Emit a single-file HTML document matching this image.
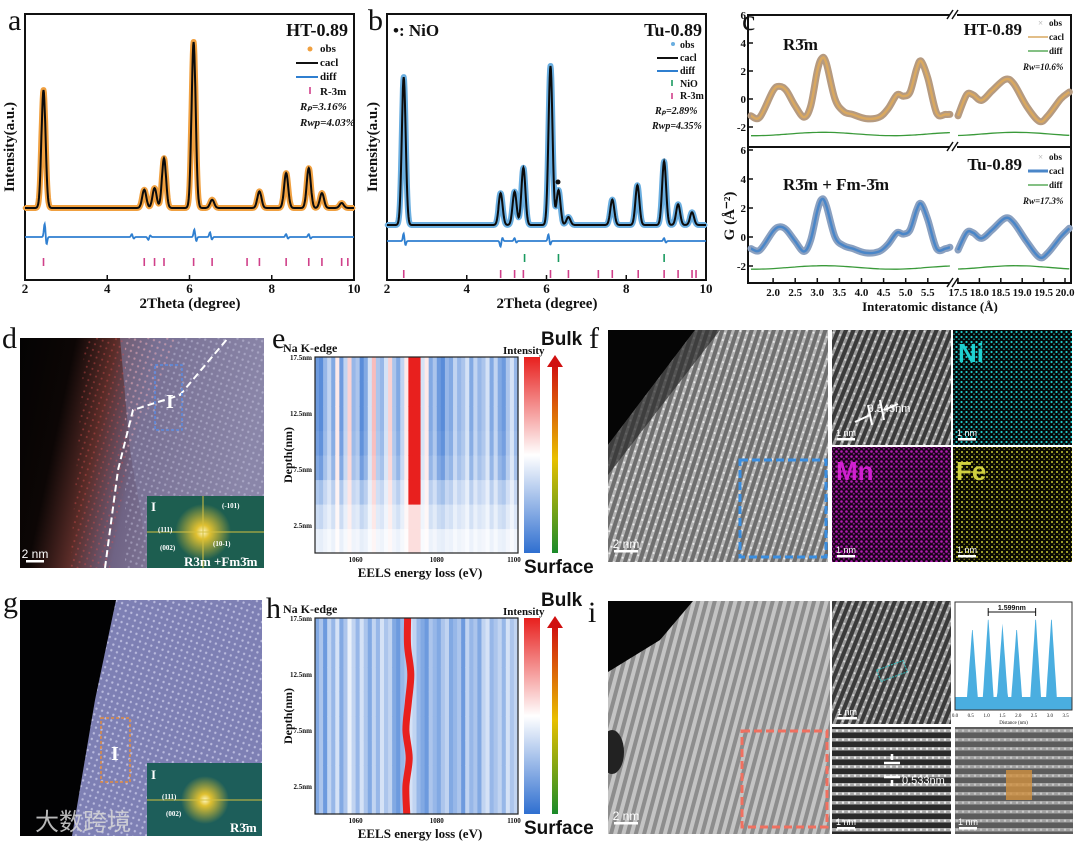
<!DOCTYPE html>
<html><head><meta charset="utf-8"><style>
html,body{margin:0;padding:0;background:#fff;}
svg{display:block;}
</style></head><body>
<svg id="fig" width="1080" height="841" viewBox="0 0 1080 841" xmlns="http://www.w3.org/2000/svg">
<defs>
  <pattern id="dotsW" width="6" height="6" patternUnits="userSpaceOnUse" patternTransform="rotate(20)"><circle cx="3" cy="3" r="1.2" fill="#e8e8ff" opacity="0.55"/></pattern>
  <pattern id="dotsR" width="6" height="6" patternUnits="userSpaceOnUse" patternTransform="rotate(20)"><circle cx="3" cy="3" r="1" fill="#e05050" opacity="0.6"/></pattern>
  <pattern id="stripesG" width="7" height="7" patternUnits="userSpaceOnUse" patternTransform="rotate(18)"><rect width="7" height="7" fill="#6f6f6f"/><rect x="0" width="3" height="7" fill="#b5b5b5"/><circle cx="1.5" cy="2" r="1" fill="#eee"/></pattern>
  <pattern id="stripesD" width="7" height="7" patternUnits="userSpaceOnUse" patternTransform="rotate(22)"><rect width="7" height="7" fill="#3a3a3a"/><rect x="0" width="3" height="7" fill="#9a9a9a"/><circle cx="1.5" cy="3" r="1" fill="#ddd"/></pattern>
  <pattern id="stripesH" width="6" height="9" patternUnits="userSpaceOnUse"><rect width="6" height="9" fill="#2a2a2a"/><rect y="0" width="6" height="3.5" fill="#a8a8a8"/><circle cx="3" cy="1.7" r="1.2" fill="#eee"/></pattern>
  <pattern id="stripesL" width="8" height="8" patternUnits="userSpaceOnUse" patternTransform="rotate(15)"><rect width="8" height="8" fill="#8d8d8d"/><rect width="4" height="8" fill="#c4c4c4"/></pattern>
  <pattern id="dotC" width="5" height="5" patternUnits="userSpaceOnUse"><rect width="5" height="5" fill="#050808"/><circle cx="1.5" cy="2" r="1.1" fill="#1fc9c9"/><circle cx="4" cy="4.2" r="0.8" fill="#1aa6a6"/></pattern>
  <pattern id="dotM" width="5" height="5" patternUnits="userSpaceOnUse"><rect width="5" height="5" fill="#1a031a"/><circle cx="1.5" cy="1.5" r="1.3" fill="#b21cb2"/><circle cx="3.8" cy="3.7" r="1" fill="#8a168a"/></pattern>
  <pattern id="dotY" width="5" height="5" patternUnits="userSpaceOnUse"><rect width="5" height="5" fill="#0a0a02"/><circle cx="2" cy="2" r="1" fill="#c8c832"/><circle cx="4.2" cy="4.3" r="0.7" fill="#8f8f22"/></pattern>
  <radialGradient id="glow"><stop offset="0" stop-color="#fff8c0"/><stop offset="0.25" stop-color="#e0c030"/><stop offset="1" stop-color="#e0c030" stop-opacity="0"/></radialGradient>
  <linearGradient id="dGrad" x1="0" y1="0" x2="1" y2="0.2"><stop offset="0" stop-color="#040303"/><stop offset="0.22" stop-color="#0c0605"/><stop offset="0.38" stop-color="#5a2c28"/><stop offset="0.55" stop-color="#6f6384"/><stop offset="1" stop-color="#9c99b8"/></linearGradient>
  <linearGradient id="cbar" x1="0" y1="1" x2="0" y2="0"><stop offset="0" stop-color="#2f6fd0"/><stop offset="0.5" stop-color="#ffffff"/><stop offset="1" stop-color="#e8201e"/></linearGradient>
  <linearGradient id="arrowG" x1="0" y1="1" x2="0" y2="0"><stop offset="0" stop-color="#1a8a2a"/><stop offset="0.5" stop-color="#e8c000"/><stop offset="1" stop-color="#d01010"/></linearGradient>
</defs>
<g id="root"></g>
</svg>
<script>
const NS="http://www.w3.org/2000/svg";
const root=document.getElementById('root');
function mk(tag,attrs,parent,text){const e=document.createElementNS(NS,tag);for(const k in attrs)e.setAttribute(k,attrs[k]);if(text!==undefined)e.textContent=text;(parent||root).appendChild(e);return e;}
function txt(x,y,s,size,opts,parent){opts=opts||{};const t=mk('text',Object.assign({x:x,y:y,'font-size':size,'font-family':opts.sans?'"Liberation Sans",sans-serif':'"Liberation Serif",serif','font-weight':opts.w||'bold',fill:opts.fill||'#111','text-anchor':opts.anchor||'start'},opts.extra||{}),parent,s);return t;}

/* ===== XRD data ===== */
const aPeakPos=[2.45,4.9,5.15,5.38,6.1,6.55,7.7,8.35,8.9,9.22,9.7];
const aPeakHeight=[71,11,12,30,100,5,10,21,24,9,3];
const aTickPos=[2.45,4.9,5.15,5.38,6.1,6.55,7.4,7.7,8.35,8.9,9.22,9.7,9.85];
const aDiffPos=[2.48,4.6,5.0,6.12,6.5,8.35,8.9];
const aDiffVal=[14,3,-3,8,5,3,3];
const bPeakPos=[2.42,4.85,5.2,5.42,6.1,6.3,6.55,7.65,8.28,8.95,9.3,9.65];
const bPeakHeight=[93,20,21,36,100,22,5,16,25,40,13,8];
const bTickR=[2.42,4.85,5.2,5.42,6.1,6.55,7.3,7.65,8.3,8.95,9.3,9.65,9.75];
const bTickNiO=[5.45,6.3,8.95];
const bDiffPos=[2.42,4.85,6.05,5.2,8.95];
const bDiffVal=[8,-6,7,3,3];
const xrdTicks=[2,4,6,8,10];

function gauss(x,c,s){return Math.exp(-0.5*((x-c)/s)**2);}
function xrdPanel(cfg){
  const g=mk('g',{});
  
  
  const X=v=>cfg.x0+(v-2)/8*(cfg.x1-cfg.x0);
  const Y=v=>cfg.base-v*cfg.k;
  const fr=mk('rect',{x:cfg.x0,y:cfg.top,width:cfg.x1-cfg.x0,height:cfg.bot-cfg.top,fill:'none',stroke:'#111','stroke-width':2},g);
  
  xrdTicks.forEach(t=>{
    mk('line',{x1:X(t),x2:X(t),y1:cfg.bot,y2:cfg.bot-5,stroke:'#111','stroke-width':1.5},g);
    const l=txt(X(t),cfg.bot+13,String(t),13,{anchor:'middle'},g);
    
  });
  const prof=v=>{let s=0;cfg.pos.forEach((p,i)=>{s+=cfg.h[i]*gauss(v,p,0.05);});return s;};
  let d='';
  for(let v=2;v<=10.0001;v+=0.01){d+=(d?'L':'M')+X(v).toFixed(1)+','+Y(prof(v)).toFixed(1);}
  const under=mk('path',{d:d,fill:'none',stroke:cfg.obsColor,'stroke-width':6,'stroke-linejoin':'round'},g);
  
  for(let v=2;v<=10.0001;v+=0.035){mk('circle',{cx:X(v),cy:Y(prof(v)),r:2.3,fill:cfg.obsColor},g);}
  const calc=mk('path',{d:d,fill:'none',stroke:'#0b0b0b','stroke-width':2},g);
  
  let dd='';
  for(let v=2;v<=10.0001;v+=0.01){let s=0;cfg.dpos.forEach((p,i)=>{s+=cfg.dval[i]*(gauss(v,p,0.02)-0.6*gauss(v,p+0.04,0.02));});dd+=(dd?'L':'M')+X(v).toFixed(1)+','+(cfg.diffY-s).toFixed(1);}
  const diff=mk('path',{d:dd,fill:'none',stroke:'#2f7fd0','stroke-width':1.8},g);
  
  cfg.ticks.forEach(tk=>tk.pos.forEach(p=>{mk('line',{x1:X(p),x2:X(p),y1:tk.y-4,y2:tk.y+4,stroke:tk.color,'stroke-width':1.6},g);}));
  return g;
}
xrdPanel({name:'xrd-panel-a',x0:25,x1:354,top:14,bot:280,base:208,k:1.66,pos:aPeakPos,h:aPeakHeight,obsColor:'#f0a040',dpos:aDiffPos,dval:aDiffVal,diffY:237,ticks:[{pos:aTickPos,y:262,color:'#d0408a'}]});
xrdPanel({name:'xrd-panel-b',x0:387,x1:706,top:14,bot:280,base:225,k:1.59,pos:bPeakPos,h:bPeakHeight,obsColor:'#6aaee0',dpos:bDiffPos,dval:bDiffVal,diffY:241,ticks:[{pos:bTickNiO,y:258,color:'#1a9a60'},{pos:bTickR,y:274,color:'#d0408a'}]});

[['a',8,30],['b',368,30],['c',742,30],['d',2,348],['e',272,348],['f',589,348],['g',3,612],['h',266,618],['i',588,622]].forEach(p=>{const t=txt(p[1],p[2],p[0],30,{w:'normal'});});
function yt(x,y,s,name){const t=txt(x,y,s,15,{anchor:'middle',extra:{transform:'rotate(-90 '+x+' '+y+')'}});}
yt(14,147,'Intensity(a.u.)','y-axis-title-a');yt(377,147,'Intensity(a.u.)','y-axis-title-b');
let t;
t=txt(190,308,'2Theta (degree)',15,{anchor:'middle'});
t=txt(547,308,'2Theta (degree)',15,{anchor:'middle'});
t=txt(348,36,'HT-0.89',18,{anchor:'end'});
mk('circle',{cx:310,cy:49,r:2.5,fill:'#f0a040'});
[['obs',52],['cacl',66],['diff',80],['R-3m',95]].forEach(r=>{const l=txt(320,r[1],r[0],11);});
mk('line',{x1:296,x2:318,y1:63,y2:63,stroke:'#111','stroke-width':2});
mk('line',{x1:296,x2:318,y1:77,y2:77,stroke:'#2f7fd0','stroke-width':2});
mk('line',{x1:310,x2:310,y1:87,y2:94,stroke:'#d0408a','stroke-width':1.6});
txt(300,110,'Rₚ=3.16%',11,{extra:{'font-style':'italic'}});
txt(300,126,'Rwp=4.03%',11,{extra:{'font-style':'italic'}});
t=txt(702,36,'Tu-0.89',18,{anchor:'end'});
t=txt(393,36,'•:  NiO',17);
mk('circle',{cx:558,cy:182,r:2.5,fill:'#111'});
mk('circle',{cx:673,cy:44,r:2,fill:'#6aaee0'});
[['obs',48],['cacl',61],['diff',74],['NiO',87],['R-3m',99]].forEach(r=>{const l=txt(680,r[1],r[0],10);});
mk('line',{x1:657,x2:678,y1:58,y2:58,stroke:'#111','stroke-width':2});
mk('line',{x1:657,x2:678,y1:71,y2:71,stroke:'#2f7fd0','stroke-width':2});
mk('line',{x1:672,x2:672,y1:80,y2:86,stroke:'#1a9a60','stroke-width':1.6});
mk('line',{x1:672,x2:672,y1:93,y2:99,stroke:'#d0408a','stroke-width':1.6});
txt(655,114,'Rₚ=2.89%',10,{extra:{'font-style':'italic'}});
txt(652,129,'Rwp=4.35%',10,{extra:{'font-style':'italic'}});

/* ===== PDF panel c ===== */
const cLeftR=[1.5,1.7,2.0,2.15,2.3,2.5,2.7,2.85,3.0,3.1,3.2,3.4,3.6,3.8,4.1,4.4,4.6,4.8,4.95,5.1,5.25,5.35,5.5,5.7,5.9,6.0];
const cTopLeftG=[-1.2,-1.3,0.6,0.9,0.6,-0.5,-1.3,-0.5,2.0,2.9,2.6,0,-0.9,-1.1,-1.4,-1.3,-0.7,0.3,0.2,0.5,2.2,2.7,1.5,-1.0,-1.1,-1.1];
const cBotLeftG=[-0.8,-0.9,0.4,0.7,0.5,-0.3,-1.0,-0.2,1.8,2.6,2.2,0,-0.6,-0.8,-1.1,-1.0,-0.5,0.3,0.2,0.5,1.9,2.3,1.2,-0.8,-0.8,-0.7];
const cRightR=[17.5,17.7,17.85,18.05,18.3,18.6,18.8,19.1,19.4,19.6,19.9,20.1];
const cTopRightG=[-1.2,0.3,0.3,-0.1,0.6,1.4,1.1,-0.5,-1.6,-1.2,0,0.5];
const cBotRightG=[-0.9,0.3,0.3,-0.1,0.5,1.3,1.0,-0.3,-1.4,-1.1,0,0.6];
const cTopDiff=-2.5, cBotDiff=-2.1;
const cLeftTicks=[2.0,2.5,3.0,3.5,4.0,4.5,5.0,5.5];
const cRightTicks=[17.5,18.0,18.5,19.0,19.5,20.0];
const cYTicks=[6,4,2,0,-2];
const XL=r=>751+(r-1.5)*44.2, XR=r=>958+(r-17.5)*42.8;
function smoothPath(xs,ys){let d='M'+xs[0]+','+ys[0];for(let i=1;i<xs.length;i++){const x0=xs[i-1],y0=ys[i-1],x1=xs[i],y1=ys[i];const px=i>1?xs[i-2]:x0,py=i>1?ys[i-2]:y0;const nx=i<xs.length-1?xs[i+1]:x1,ny=i<xs.length-1?ys[i+1]:y1;d+='C'+(x0+(x1-px)/6).toFixed(1)+','+(y0+(y1-py)/6).toFixed(1)+' '+(x1-(nx-x0)/6).toFixed(1)+','+(y1-(ny-y0)/6).toFixed(1)+' '+x1.toFixed(1)+','+y1.toFixed(1);}return d;}
function pdfSub(cfg){
  const g=mk('g',{});
  const Y=v=>cfg.zero-v*cfg.k;
  mk('rect',{x:748,y:cfg.top,width:323,height:cfg.bot-cfg.top,fill:'none',stroke:'#111','stroke-width':2},g);
  cYTicks.forEach(v=>{const yy=Y(v);if(yy<cfg.top-1||yy>cfg.bot)return;mk('line',{x1:748,x2:753,y1:yy,y2:yy,stroke:'#111','stroke-width':1.5},g);const l=txt(746,yy+4,String(v),11,{anchor:'end'},g);});
  [[cLeftR,cfg.gl,XL],[cRightR,cfg.gr,XR]].forEach(seg=>{
    const xs=seg[0].map(seg[2]),ys=seg[1].map(Y);const d=smoothPath(xs,ys);
    const o=mk('path',{d:d,fill:'none',stroke:cfg.obs,'stroke-width':7,'stroke-linecap':'round'},g);
    const c=mk('path',{d:d,fill:'none',stroke:cfg.calc,'stroke-width':2.5},g);
    const dl=mk('path',{d:smoothPath(xs,seg[0].map((r,i)=>Y(cfg.diff+0.12*Math.cos(r*2)))),fill:'none',stroke:'#3a9a3a','stroke-width':1.3},g);
  });
  mk('rect',{x:950,y:cfg.top-4,width:7,height:8,fill:'#fff'},g);
  mk('path',{d:`M947,${cfg.top+4} L953,${cfg.top-5} M952,${cfg.top+4} L958,${cfg.top-5}`,stroke:'#111','stroke-width':1.5},g);
  return g;
}
pdfSub({name:'pdf-panel-ht',top:15,bot:147,zero:99,k:14,gl:cTopLeftG,gr:cTopRightG,diff:cTopDiff,obs:'#b59a80',calc:'#d9a860'});
pdfSub({name:'pdf-panel-tu',top:147,bot:283,zero:237,k:14.5,gl:cBotLeftG,gr:cBotRightG,diff:cBotDiff,obs:'#8aa0c0',calc:'#4a86c8'});
mk('rect',{x:950,y:279,width:7,height:8,fill:'#fff'});
mk('path',{d:'M947,287 L953,278 M952,287 L958,278',stroke:'#111','stroke-width':1.5});
cLeftTicks.forEach(r=>{mk('line',{x1:XL(r),x2:XL(r),y1:283,y2:278,stroke:'#111','stroke-width':1.5});const l=txt(XL(r),296,r.toFixed(1),11,{anchor:'middle'});});
cRightTicks.forEach(r=>{mk('line',{x1:XR(r),x2:XR(r),y1:283,y2:278,stroke:'#111','stroke-width':1.5});const l=txt(XR(r),296,r.toFixed(1),10,{anchor:'middle',extra:{textLength:19,lengthAdjust:'spacingAndGlyphs'}});});
t=txt(930,311,'Interatomic distance (Å)',13,{anchor:'middle'});
yt(734,216,'G (Å⁻²)','y-axis-title-c');
t=txt(783,50,'R3̄m',17);
t=txt(783,190,'R3̄m + Fm-3̄m',17);
t=txt(1022,35,'HT-0.89',17,{anchor:'end'});
t=txt(1022,170,'Tu-0.89',17,{anchor:'end'});
[[26,'#aaa','#d9a860',0],[160,'#aaa','#4a86c8',3]].forEach(L=>{const y=L[0];
  txt(1038,y,'×',9,{fill:L[1],w:'normal'});txt(1049,y,'obs',9);
  mk('line',{x1:1028,x2:1048,y1:y+11,y2:y+11,stroke:L[2],'stroke-width':L[3]?3:1.5});txt(1049,y+14,'cacl',9);
  mk('line',{x1:1028,x2:1048,y1:y+25,y2:y+25,stroke:'#3a9a3a','stroke-width':1.3});txt(1049,y+28,'diff',9);
});
txt(1023,70,'Rw=10.6%',9,{extra:{'font-style':'italic'}});
txt(1023,204,'Rw=17.3%',9,{extra:{'font-style':'italic'}});

/* ===== EELS heatmaps ===== */
const eCols=[-0.7,-0.8,-0.5,-0.3,-0.6,0.1,-0.7,-0.3,0.2,-0.5,-0.4,-0.8,-0.6,-0.2,0.3,-0.4,-0.5,-0.2,0.2,-0.4,-0.6,-0.3,0.1,1,1,0.9,-0.2,0.1,-0.6,-0.4,-0.7,-0.8,-0.5,-0.6,-0.3,-0.5,-0.4,-0.2,-0.6,-0.3,-0.5,-0.4,-0.2,-0.6,-0.3,-0.6,-0.7,-0.4,-0.2,-0.5];
const eDepthFactor=[0.15,0.35,0.55,0.85,0.95,1,1,1];
const ePeakDepthMin=5;
const hCols=[-0.6,-0.4,-0.7,-0.3,-0.5,-0.2,-0.6,-0.4,-0.1,-0.3,-0.5,-0.2,-0.4,-0.6,-0.3,-0.5,-0.2,-0.4,-0.3,-0.6,-0.7,-0.5,-0.4,-0.2,-0.3,-0.5,-0.6,-0.7,-0.4,-0.5,-0.6,-0.4,-0.3,-0.6,-0.5,-0.4,-0.7,-0.3,-0.5,-0.4,-0.6,-0.3,-0.2,-0.5,-0.4,-0.3,-0.5,-0.2,-0.4,-0.3];
const hPeakDepth=[0,2.5,5,7.5,10,12.5,15,17.5];
const hPeakCenter=[1072.6,1072.4,1073.2,1072.4,1073.0,1073.6,1072.8,1072.8];
const eelsXTicks=[1060,1080,1100];
const eelsYTicks=[2.5,7.5,12.5,17.5];
function col(v){v=Math.max(-1,Math.min(1,v));if(v<0){const a=-v;return `rgb(${Math.round(255-a*208)},${Math.round(255-a*144)},${Math.round(255-a*47)})`;}return `rgb(${Math.round(255-v*23)},${Math.round(255-v*223)},${Math.round(255-v*225)})`;}
function eels(cfg){
  const g=mk('g',{});
  const x0=315,x1=518,y0=cfg.top,y1=cfg.top+196;
  const X=e=>x0+(e-1050)/50*(x1-x0), Y=d=>y1-d/17.5*(y1-y0);
  const nb=8,bh=17.5/nb;
  for(let j=0;j<cfg.cols.length;j++){for(let i=0;i<nb;i++){
    let v=cfg.cols[j];
    if(cfg.type==='e'){ if(v>0.8){v=(i*bh>=ePeakDepthMin-1)?1:0.15;} else v=v*eDepthFactor[i]; }
    mk('rect',{x:X(1050+j).toFixed(2),y:Y((i+1)*bh).toFixed(2),width:((x1-x0)/50+0.6).toFixed(2),height:((y1-y0)/nb+0.6).toFixed(2),fill:col(v)},g);
  }}
  if(cfg.type==='h'){
    const xs=hPeakCenter.map(X),ys=hPeakDepth.map(Y);
    const p=mk('path',{d:smoothPath(xs,ys),fill:'none',stroke:'#e8201e','stroke-width':7},g);
    
  }
  mk('rect',{x:x0,y:y0,width:x1-x0,height:y1-y0,fill:'none',stroke:'#222','stroke-width':1.2},g);
  eelsXTicks.forEach(e=>{const l=txt(X(e)-(e===1100?4:0),y1+9,String(e),7,{anchor:'middle'},g);});
  eelsYTicks.forEach(d=>{const l=txt(x0-3,Y(d)+3,d+'nm',7,{anchor:'end'},g);});
  const xl=txt(420,y1+24,'EELS energy loss (eV)',13,{anchor:'middle'},g);
  const yl=txt(292,(y0+y1)/2,'Depth(nm)',12,{anchor:'middle',extra:{transform:`rotate(-90 292 ${(y0+y1)/2})`}},g);
  txt(283,y0-5,'Na K-edge',12,{},g);
  txt(503,y0-3,'Intensity',11,{},g);
  const cb=mk('rect',{x:524,y:y0,width:16,height:196,fill:'url(#cbar)'},g);
  mk('rect',{x:552,y:y0+8,width:6,height:188,fill:'url(#arrowG)'},g);
  mk('path',{d:`M547,${y0+10} L555,${y0-2} L563,${y0+10}Z`,fill:'#d01010'},g);
  const bk=txt(541,y0-12,'Bulk',19,{sans:true},g);
  const sf=txt(524,y1+20,'Surface',19,{sans:true},g);
}
eels({name:'eels-heatmap-e',top:357,cols:eCols,type:'e'});
eels({name:'eels-heatmap-h',top:618,cols:hCols,type:'h'});

/* ===== Microscopy images ===== */
function img(name,x,y,w,h){const g=mk('g',{});const cp=mk('clipPath',{id:'cp'+name},g);mk('rect',{x:x,y:y,width:w,height:h},cp);const inner=mk('g',{'clip-path':`url(#cp${name})`},g);return inner;}
function scale(g,x,y,label,w){mk('rect',{x:x,y:y,width:w||20,height:2.5,fill:'#fff'},g);txt(x+(w||20)/2,y-2,label,label==='2 nm'?12:9,{sans:true,fill:'#fff',anchor:'middle',w:'normal'},g);}
let G=img('stem-image-d',20,338,244,230);
mk('rect',{x:20,y:338,width:244,height:230,fill:'url(#dGrad)'},G);
mk('polygon',{points:'120,338 264,338 264,568 150,568 130,450',fill:'#7f7a9e',opacity:0.6},G);
mk('polygon',{points:'85,338 180,338 130,450 110,568 70,568',fill:'url(#dotsR)',opacity:0.7},G);
mk('rect',{x:125,y:338,width:139,height:230,fill:'url(#dotsW)',opacity:0.6},G);
mk('path',{d:'M105,568 L118,470 L133,410 L180,395 L228,338',fill:'none',stroke:'#fff','stroke-width':2,'stroke-dasharray':'7,4'},G);
mk('rect',{x:155,y:365,width:27,height:65,fill:'none',stroke:'#5a8ae0','stroke-width':1.5,'stroke-dasharray':'3,2'},G);
txt(166,408,'I',20,{fill:'#fff'},G);
scale(G,26,560,'2 nm',18);
mk('rect',{x:147,y:496,width:117,height:72,fill:'#1d5e50'},G);
mk('circle',{cx:203,cy:532,r:28,fill:'url(#glow)'},G);
mk('line',{x1:147,x2:264,y1:532,y2:532,stroke:'#d4c040','stroke-width':1},G);
mk('line',{x1:203,x2:203,y1:496,y2:568,stroke:'#d4c040','stroke-width':1},G);
txt(151,511,'I',13,{fill:'#fff'},G);txt(222,508,'(-101)',7,{fill:'#fff'},G);txt(158,532,'(111)',7,{fill:'#fff'},G);txt(160,550,'(002)',7,{fill:'#fff'},G);txt(213,546,'(10-1)',7,{fill:'#fff'},G);
txt(184,566,'R3m +Fm3̄m',13,{fill:'#fff'},G);
G=img('stem-image-f',608,330,220,232);
mk('rect',{x:608,y:330,width:220,height:232,fill:'url(#stripesG)'},G);
mk('polygon',{points:'608,330 695,330 608,445',fill:'#050505'},G);
mk('polygon',{points:'695,330 720,330 608,475 608,445',fill:'#2a2a2a',opacity:0.7},G);
mk('rect',{x:740,y:460,width:86,height:97,fill:'none',stroke:'#3a8ee0','stroke-width':3,'stroke-dasharray':'8,4'},G);
scale(G,614,550,'2 nm',24);
G=img('hrtem-f-zoom',832,330,119,115);mk('rect',{x:832,y:330,width:119,height:115,fill:'url(#stripesD)'},G);
mk('path',{d:'M855,422 L870,415 M884,410 L898,404 M868,405 L872,425 M880,400 L884,420',stroke:'#fff','stroke-width':2},G);
txt(889,412,'0.543nm',11,{sans:true,fill:'#fff',anchor:'middle',w:'normal'},G);scale(G,837,438,'1 nm',18);
G=img('eds-ni-map',953,330,119,115);mk('rect',{x:953,y:330,width:119,height:115,fill:'url(#dotC)'},G);txt(958,362,'Ni',26,{sans:true,fill:'#1fd0d0'},G);scale(G,958,438,'1 nm',18);
G=img('eds-mn-map',832,447,119,115);mk('rect',{x:832,y:447,width:119,height:115,fill:'url(#dotM)'},G);txt(836,480,'Mn',26,{sans:true,fill:'#d020d0'},G);scale(G,837,555,'1 nm',18);
G=img('eds-fe-map',953,447,119,115);mk('rect',{x:953,y:447,width:119,height:115,fill:'url(#dotY)'},G);txt(956,480,'Fe',26,{sans:true,fill:'#d0d040'},G);scale(G,958,555,'1 nm',18);
G=img('stem-image-g',20,600,242,236);
mk('rect',{x:20,y:600,width:242,height:236,fill:'#7e80b4'},G);
mk('rect',{x:20,y:600,width:242,height:236,fill:'url(#dotsW)'},G);
mk('polygon',{points:'20,600 116,600 95,700 72,836 20,836',fill:'#020203'},G);
mk('rect',{x:101,y:718,width:29,height:64,fill:'none',stroke:'#e08a40','stroke-width':1.5,'stroke-dasharray':'3,2'},G);
txt(111,760,'I',20,{fill:'#fff'},G);
mk('rect',{x:147,y:763,width:115,height:73,fill:'#1d5e5a'},G);
mk('circle',{cx:205,cy:800,r:24,fill:'url(#glow)'},G);
mk('line',{x1:147,x2:262,y1:800,y2:800,stroke:'#d4c040','stroke-width':1},G);
txt(151,779,'I',13,{fill:'#fff'},G);txt(162,799,'(111)',7,{fill:'#fff'},G);txt(166,816,'(002)',7,{fill:'#fff'},G);txt(230,832,'R3̄m',13,{fill:'#fff'},G);
t=txt(35,830,'大数跨境',24,{fill:'#d8d8d8',w:'normal',extra:{'font-family':'"Noto Sans CJK SC",sans-serif',opacity:0.85}});
G=img('stem-image-i',608,601,222,233);
mk('rect',{x:608,y:601,width:222,height:233,fill:'url(#stripesL)'},G);
mk('polygon',{points:'608,601 693,601 660,640 608,672',fill:'#050505'},G);
mk('ellipse',{cx:612,cy:752,rx:12,ry:22,fill:'#222'},G);
mk('rect',{x:742,y:731,width:85,height:96,fill:'none',stroke:'#f07060','stroke-width':3,'stroke-dasharray':'8,4'},G);
scale(G,614,822,'2 nm',24);
G=img('hrtem-i-top',832,601,119,123);mk('rect',{x:832,y:601,width:119,height:123,fill:'url(#stripesD)'},G);
mk('rect',{x:878,y:665,width:28,height:12,fill:'none',stroke:'#30c0c0','stroke-width':1,'stroke-dasharray':'2,1','transform':'rotate(-20 892 671)'},G);scale(G,837,717,'1 nm',20);
G=img('hrtem-i-bottom',832,727,119,107);mk('rect',{x:832,y:727,width:119,height:107,fill:'url(#stripesH)'},G);
mk('path',{d:'M884,763 L900,763 M884,777 L900,777 M892,754 L892,760 M892,780 L892,786',stroke:'#fff','stroke-width':2.5},G);
txt(902,784,'0.533nm',11,{sans:true,fill:'#fff',w:'normal'},G);scale(G,837,827,'1 nm',18);
G=img('hrtem-i-model',955,727,118,107);mk('rect',{x:955,y:727,width:118,height:107,fill:'url(#stripesH)'},G);mk('rect',{x:955,y:727,width:118,height:107,fill:'#9a9a9a',opacity:0.45},G);
mk('rect',{x:1006,y:770,width:26,height:30,fill:'#d09040',opacity:0.8},G);scale(G,959,827,'1 nm',18);

/* ===== line profile in i ===== */
const profPeakPos=[0.55,1.05,1.5,1.95,2.55,3.05];
const profPeakH=[0.78,0.88,0.8,0.78,0.88,0.88];
const profXTicks=[0.0,0.5,1.0,1.5,2.0,2.5,3.0,3.5];
(function(){
  const g=mk('g',{});
  const x0=955,x1=1072,y0=602,y1=710;
  const X=v=>x0+v/3.7*(x1-x0),Y=v=>y1-v*(y1-y0);
  mk('rect',{x:x0,y:y0,width:x1-x0,height:y1-y0,fill:'#fff'},g);
  let d='M'+x0+','+y1;
  for(let v=0;v<=3.7;v+=0.02){let s=0.12;profPeakPos.forEach((p,i)=>{s=Math.max(s,0.12+(profPeakH[i]-0.12)*Math.max(0,1-Math.abs(v-p)/0.17));});d+='L'+X(v).toFixed(1)+','+Y(s).toFixed(1);}
  d+='L'+x1+','+y1+'Z';
  const a=mk('path',{d:d,fill:'#4aaee0'},g);
  mk('rect',{x:x0,y:y0,width:x1-x0,height:y1-y0,fill:'none',stroke:'#333','stroke-width':1},g);
  profXTicks.forEach(v=>{txt(X(v),y1+7,v.toFixed(1),5,{anchor:'middle',w:'normal'},g);});
  txt((x0+x1)/2,y1+14,'Distance (nm)',5,{anchor:'middle',w:'normal'},g);
  mk('path',{d:`M${X(1.05)},${y0+10} L${X(2.55)},${y0+10} M${X(1.05)},${y0+6} L${X(1.05)},${y0+14} M${X(2.55)},${y0+6} L${X(2.55)},${y0+14}`,stroke:'#111','stroke-width':1},g);
  txt((X(1.05)+X(2.55))/2,y0+8,'1.599nm',7,{anchor:'middle',sans:true},g);
})();
</script>
</body></html>
